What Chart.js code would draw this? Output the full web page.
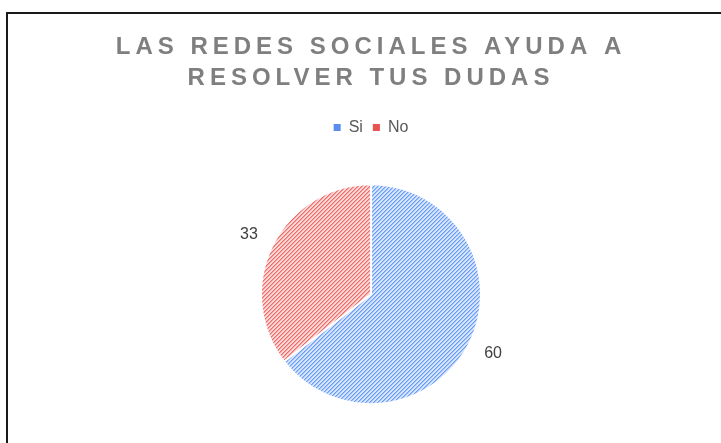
<!DOCTYPE html>
<html>
<head>
<meta charset="utf-8">
<script src="https://cdn.jsdelivr.net/npm/chart.js@4"></script>
<style>
  html, body { margin: 0; padding: 0; background: #fff; overflow: hidden; }
  #wrap { position: relative; width: 721px; height: 443px; }
  #frame { position: absolute; left: 6px; top: 12px; width: 800px; height: 500px;
           border-top: 2px solid #1a1a1a; border-left: 2px solid #1a1a1a; box-sizing: border-box; }
  #c { position: absolute; left: 0; top: 0; }
</style>
</head>
<body>
<div id="wrap">
  <div id="frame"></div>
  <canvas id="c" width="721" height="443"></canvas>
</div>
<script>
const categories = ['Si', 'No'];
const values = [60, 33];
const titleLines = ['LAS REDES SOCIALES AYUDA A', 'RESOLVER TUS DUDAS'];
const solidColors = ['#5B8DEF', '#E8534F'];
const stripeColors = ['#6A9EF6', '#F06A66'];
const lightColors = ['#D6E4FD', '#FBD9D8'];

function makePattern(bg, fg) {
  const t = document.createElement('canvas');
  t.width = 4; t.height = 4;
  const g = t.getContext('2d');
  g.fillStyle = bg; g.fillRect(0, 0, 4, 4);
  g.fillStyle = fg;
  for (let i = 0; i < 4; i++) g.fillRect(i, 3 - i, 1, 1);
  g.globalAlpha = 0.5;
  for (let i = 0; i < 4; i++) g.fillRect(i, (4 - i) % 4, 1, 1);
  return g.createPattern(t, 'repeat');
}
const ctxMain = document.getElementById('c').getContext('2d');
const patterns = stripeColors.map((c, i) => makePattern(lightColors[i], c));

const titleSpacing = {
  id: 'titleSpacing',
  beforeDraw(chart) {
    const tb = chart.titleBlock;
    if (tb && !tb._patched) {
      const orig = tb.draw;
      tb.draw = function (...a) {
        const ctx = this.ctx;
        const prev = ctx.letterSpacing;
        ctx.letterSpacing = '5px';
        orig.apply(this, a);
        ctx.letterSpacing = prev;
      };
      tb._patched = true;
    }
  }
};

const outsideLabels = {
  id: 'outsideLabels',
  afterDatasetsDraw(chart) {
    const ctx = chart.ctx;
    const meta = chart.getDatasetMeta(0);
    ctx.save();
    ctx.font = '16px "Liberation Sans", Arial, sans-serif';
    ctx.fillStyle = '#404040';
    ctx.textAlign = 'center';
    ctx.textBaseline = 'middle';
    meta.data.forEach((arc, i) => {
      const p = arc.getProps(['x', 'y', 'startAngle', 'endAngle', 'outerRadius'], true);
      const mid = (p.startAngle + p.endAngle) / 2;
      const r = p.outerRadius + 26;
      ctx.fillText(String(chart.data.datasets[0].data[i]), p.x + Math.cos(mid) * r, p.y + Math.sin(mid) * r);
    });
    ctx.restore();
  }
};

new Chart(ctxMain, {
  type: 'pie',
  data: {
    labels: categories,
    datasets: [{
      data: values,
      backgroundColor: patterns,
      borderColor: '#ffffff',
      borderWidth: 2,
      hoverOffset: 0
    }]
  },
  options: {
    responsive: false,
    animation: false,
    radius: 110,
    layout: { padding: { left: 21, right: 0, top: 0, bottom: -2 } },
    plugins: {
      title: {
        display: true,
        text: titleLines,
        color: '#7F7F7F',
        font: { family: '"Liberation Sans", Arial, sans-serif', size: 24, weight: 'bold', lineHeight: 1.3 },
        padding: { top: 32, bottom: 15 }
      },
      legend: {
        position: 'top',
        labels: {
          color: '#595959',
          font: { family: '"Liberation Sans", Arial, sans-serif', size: 16 },
          boxWidth: 7,
          boxHeight: 7,
          padding: 10,
          generateLabels(chart) {
            const items = Chart.overrides.pie.plugins.legend.labels.generateLabels(chart);
            items.forEach((it, i) => { it.fillStyle = solidColors[i]; it.strokeStyle = solidColors[i]; it.lineWidth = 0; });
            return items;
          }
        }
      },
      tooltip: { enabled: false }
    }
  },
  plugins: [titleSpacing, outsideLabels]
});
</script>
</body>
</html>
